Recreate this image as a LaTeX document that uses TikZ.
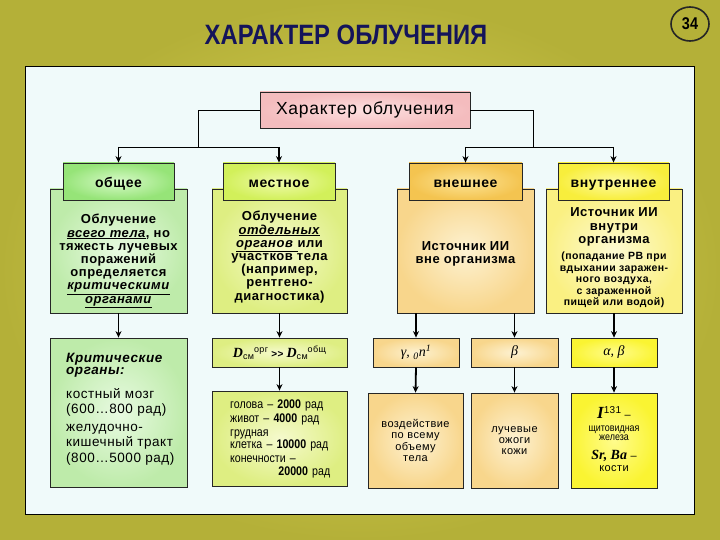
\documentclass[tikz,border=0pt]{standalone}
\usepackage{fontspec}
\setmainfont[LetterSpace=4]{Liberation Sans}
\newfontfamily\narrowfont[FakeStretch=0.85]{Liberation Sans}
\newfontfamily\titlefont[FakeStretch=0.85]{Liberation Sans}
\newfontfamily\serifit[ItalicFont={Liberation Serif Italic}]{Liberation Serif}
\usetikzlibrary{arrows.meta,shapes.geometric}
\definecolor{bgout}{RGB}{180,176,56}
\definecolor{bgin}{RGB}{226,218,92}
\definecolor{panel}{RGB}{240,250,250}
\definecolor{titlecol}{RGB}{20,20,90}
\definecolor{pinkout}{RGB}{244,188,190}
\definecolor{pinkin}{RGB}{253,224,224}
\definecolor{grhout}{RGB}{150,228,120}
\definecolor{grhin}{RGB}{215,250,200}
\definecolor{grout}{RGB}{190,235,170}
\definecolor{grin}{RGB}{232,250,225}
\definecolor{lmhout}{RGB}{210,240,90}
\definecolor{lmhin}{RGB}{238,250,170}
\definecolor{lmout}{RGB}{222,238,130}
\definecolor{lmin}{RGB}{245,250,205}
\definecolor{orhout}{RGB}{244,196,80}
\definecolor{orhin}{RGB}{252,228,150}
\definecolor{orout}{RGB}{248,214,140}
\definecolor{orin}{RGB}{253,242,210}
\definecolor{yehout}{RGB}{248,238,60}
\definecolor{yehin}{RGB}{253,250,160}
\definecolor{yeout}{RGB}{250,240,130}
\definecolor{yein}{RGB}{253,250,210}
\definecolor{yesout}{RGB}{250,244,50}
\definecolor{yesin}{RGB}{255,252,140}
\tikzset{
  box/.style={draw=black!85, line width=0.8pt, inner sep=0pt, align=center},
  hdr/.style={box, minimum height=37pt, text height=12pt, text depth=0pt, font=\fontsize{14}{15}\selectfont\bfseries},
  desc/.style={box, minimum height=124pt},
  small/.style={box, minimum height=29pt},
  body/.style={inner sep=0pt, align=center, font=\fontsize{13}{13.2}\selectfont\bfseries},
  note/.style={inner sep=0pt, align=center, font=\fontsize{11}{11.2}\selectfont},
  arr/.style={-{Stealth[length=6.5pt,width=6pt]}, line width=1.8pt},
  link/.style={line width=0.9pt},
}
\newcommand{\ul}[1]{\underline{\textit{#1}}}
\begin{document}
\begin{tikzpicture}[x=1pt,y=-1pt]
\useasboundingbox (0,0) rectangle (720,540);
\shade[inner color=bgin, outer color=bgout] (0,0) rectangle (720,540);
\draw[fill=panel, line width=0.8pt] (25,66) rectangle (694,514);
\node[font=\titlefont\bfseries\fontsize{28}{30}\selectfont, text=titlecol] (title) at (346,35) {ХАРАКТЕР ОБЛУЧЕНИЯ};
\node[ellipse, draw=black!85, line width=1.6pt, minimum width=38pt, minimum height=34pt, inner sep=0pt, font=\narrowfont\bfseries\fontsize{17}{17}\selectfont] (num) at (690,24) {34};

\node[box, minimum width=210pt, minimum height=36pt, inner color=pinkin, outer color=pinkout, font=\fontsize{17.5}{18}\selectfont] (top) at (365,110) {Характер облучения};

\node[desc, minimum width=137pt, inner color=grin, outer color=grout] (d1) at (118.5,251) {};
\node[desc, minimum width=135pt, inner color=lmin, outer color=lmout] (d2) at (279.5,251) {};
\node[desc, minimum width=137pt, inner color=orin, outer color=orout] (d3) at (465.5,251) {};
\node[desc, minimum width=136pt, inner color=yein, outer color=yeout] (d4) at (614,251) {};

\node[hdr, minimum width=111pt, inner color=grhin, outer color=grhout] (h1) at (118.5,181.5) {общее};
\node[hdr, minimum width=112pt, inner color=lmhin, outer color=lmhout] (h2) at (279,181.5) {местное};
\node[hdr, minimum width=113pt, inner color=orhin, outer color=orhout] (h3) at (465.5,181.5) {внешнее};
\node[hdr, minimum width=111pt, inner color=yehin, outer color=yehout] (h4) at (613.5,181.5) {внутреннее};

\node[body] (t1) at (118.5,261) {Облучение\\ \ul{всего тела}, но\\ тяжесть лучевых\\ поражений\\ определяется\\ \ul{критическими}\\ \ul{органами}};
\node[body] (t2) at (279.5,257) {Облучение\\ \ul{отдельных}\\ \ul{органов }или\\ участков тела\\ (например,\\ рентгено-\\ диагностика)};
\node[body] (t3) at (465.5,254) {Источник ИИ\\ вне организма};
\node[body] (t4a) at (614,227) {Источник ИИ\\ внутри\\ организма};
\node[inner sep=0pt, align=center, font=\fontsize{10.5}{11.5}\selectfont\bfseries] (t4b) at (614,280) {(попадание РВ при\\ вдыхании заражен-\\ного воздуха,\\ с зараженной\\ пищей или водой)};

\coordinate (jl) at (198,147);
\coordinate (jr) at (533,147);
\draw[link] (top.west) -| (jl);
\draw[link] (top.east) -| (jr);
\draw[link] (h1.north |- jl) -- (h2.north |- jl);
\draw[link] (h3.north |- jr) -- (h4.north |- jr);
\draw[arr] (h1.north |- jl) -- (h1.north);
\draw[arr] (h2.north |- jl) -- (h2.north);
\draw[arr] (h3.north |- jr) -- (h3.north);
\draw[arr] (h4.north |- jr) -- (h4.north);

\node[box, minimum width=137pt, minimum height=149pt, inner color=grin, outer color=grout] (crit) at (118.5,412.5) {};
\node[anchor=north west, inner sep=0pt, align=left, font=\fontsize{13.5}{15.5}\selectfont] (tc) at (66,353) {{\bfseries\itshape Критические}\\[-3pt] {\bfseries\itshape органы:}\\[8pt] костный мозг\\ (600…800 рад)\\[2pt] желудочно-\\ кишечный тракт\\ (800…5000 рад)};

\node[small, minimum width=135pt, inner color=lmin, outer color=lmout] (dsm) at (279.5,352.5) {{\serifit\bfseries\itshape\fontsize{14}{14}\selectfont D}{\fontsize{9}{9}\selectfont\raisebox{-2pt}{см}\raisebox{5pt}{орг}} {\bfseries >{}>} {\serifit\bfseries\itshape\fontsize{14}{14}\selectfont D}{\fontsize{9}{9}\selectfont\raisebox{-2pt}{см}\raisebox{5pt}{общ}}};
\node[box, minimum width=135pt, minimum height=95pt, inner color=lmin, outer color=lmout] (dose) at (279.5,438.5) {};
\node[anchor=north west, inner sep=0pt, text width=100pt, align=left, font=\narrowfont\fontsize{12.5}{13.5}\selectfont] (td) at (230,400) {голова – \textbf{2000} рад\\ живот – \textbf{4000} рад\\[1pt] грудная\\[-2pt] клетка – \textbf{10000} рад\\[1pt] конечности –\\[-1pt] \hspace*{\fill}\textbf{20000} рад\hspace*{4pt}};

\node[small, minimum width=86pt, inner color=orin, outer color=orout, font=\serifit\itshape\fontsize{14}{14}\selectfont] (gam) at (416,352.5) {γ, \textsubscript{0}n\textsuperscript{1}};
\node[small, minimum width=87pt, inner color=orin, outer color=orout, font=\serifit\itshape\fontsize{14}{14}\selectfont] (bet) at (514.5,352.5) {β};
\node[small, minimum width=86pt, inner color=yesin, outer color=yesout, font=\serifit\itshape\fontsize{14}{14}\selectfont] (ab) at (614,352.5) {α, β};

\node[box, minimum width=95pt, minimum height=95pt, inner color=orin, outer color=orout, font=\fontsize{11}{11.2}\selectfont] (vozd) at (415.5,440.5) {воздействие\\ по всему\\ объему\\ тела};
\node[box, minimum width=87pt, minimum height=95pt, inner color=orin, outer color=orout, font=\fontsize{11}{11.2}\selectfont] (ozh) at (514.5,440.5) {лучевые\\ ожоги\\ кожи};
\node[box, minimum width=86pt, minimum height=95pt, inner color=yesin, outer color=yesout] (iod) at (614,440.5) {};
\node[note] (ti1) at (614,413) {{\serifit\bfseries\itshape\fontsize{17}{17}\selectfont I}{\fontsize{10}{10}\selectfont\raisebox{5pt}{131}} –};
\node[note, font=\narrowfont\fontsize{10.5}{9.5}\selectfont] (ti2) at (614,433) {щитовидная\\ железа};
\node[note] (ti3) at (614,461) {{\serifit\bfseries\itshape\fontsize{14}{14}\selectfont Sr, Ba} –\\ кости};

\draw[arr] (d1.south) -- (crit.north);
\draw[arr] (d2.south) -- (dsm.north);
\draw[arr] (dsm.south) -- (dose.north);
\draw[arr] (gam.north |- d3.south) -- (gam.north);
\draw[arr] (bet.north |- d3.south) -- (bet.north);
\draw[arr] (d4.south) -- (ab.north);
\draw[arr] (gam.south) -- (vozd.north);
\draw[arr] (bet.south) -- (ozh.north);
\draw[arr] (ab.south) -- (iod.north);
\end{tikzpicture}
\end{document}
